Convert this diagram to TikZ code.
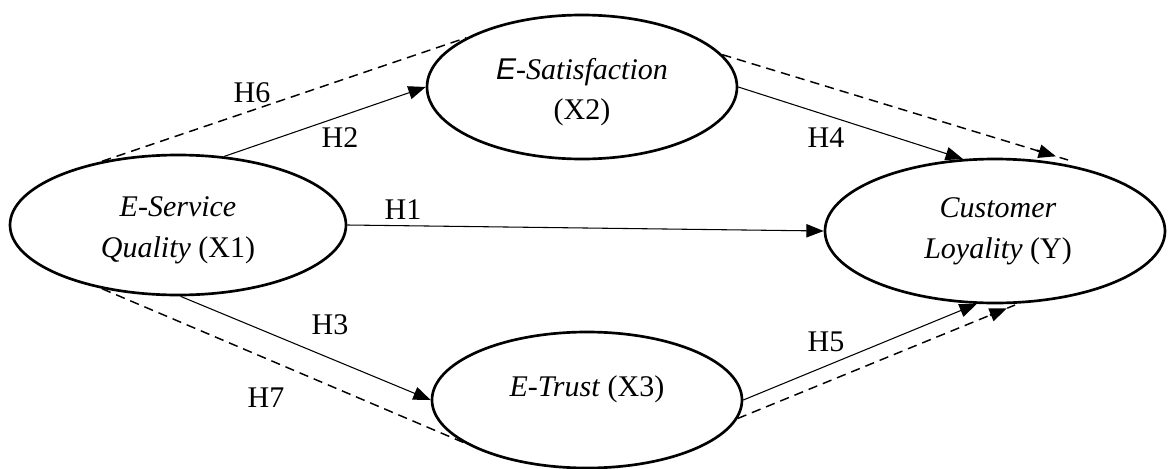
\documentclass[tikz,border=0pt]{standalone}
\usepackage{fontspec}
\setmainfont{Liberation Serif}
\newfontfamily\sansE{Liberation Sans}
\usetikzlibrary{arrows.meta,calc,shapes.geometric}
\begin{document}
\begin{tikzpicture}[x=0.75pt,y=-0.75pt,
  font=\fontsize{22.5}{30.5}\selectfont,
  latent/.style={draw, ellipse, line width=2pt, inner sep=0pt},
  txt/.style={align=center, inner sep=0pt},
  lab/.style={inner sep=0pt},
  arr/.style={line width=0.8pt, -{Triangle[length=13pt,width=10pt]}},
  dpath/.style={line width=1.1pt, dash pattern=on 7pt off 4.5pt},
  tipseg/.style={line width=1.6pt, -{Triangle[length=13pt,width=10pt]}}
]
\useasboundingbox (0,0) rectangle (1168,468);

% latent variables
\node[latent, minimum width=252pt, minimum height=105pt] (sq) at (178,225) {};
\node[latent, minimum width=232.5pt, minimum height=108pt] (sat) at (582,87) {};
\node[latent, minimum width=255pt, minimum height=108pt] (cl) at (995,231) {};
\node[latent, minimum width=232.5pt, minimum height=102pt] (tr) at (587,400) {};

\node[txt] (sqt) at (178,230) {\textit{E-Service}\\\textit{Quality} (X1)};
\node[txt] (satt) at (582,92) {\textit{{\sansE E}-Satisfaction}\\(X2)};
\node[txt] (clt) at (998,231) {\textit{Customer}\\\textit{Loyality} (Y)};
\node[txt] (trt) at (587,389) {\textit{E-Trust} (X3)};

% direct paths
\draw[arr] (sq.east) -- (cl.west);
\draw[arr] (sq.56) -- (sat.west);
\draw[arr] (sat.east) -- (cl.114.3);
\draw[arr] (sq.-88) -- (tr.west);
\draw[arr] (tr.east) -- (cl.-104.6);

% mediated (dashed) paths
\coordinate (h6end) at (1068,160);
\coordinate (h7end) at (1015,305);
\draw[dpath] (sq.140) -- (sat.157.3);
\draw[dpath] (sat.13) -- (h6end);
\draw[tipseg] ($(sat.13)!0.91!(h6end)$) -- ($(sat.13)!0.965!(h6end)$);
\draw[dpath] (sq.220) -- (tr.199.4);
\draw[dpath] (tr.-7.5) -- (h7end);
\draw[tipseg] ($(tr.-7.5)!0.91!(h7end)$) -- ($(tr.-7.5)!0.971!(h7end)$);

% labels
\node[lab] (l6) at (252,93) {H6};
\node[lab] (l2) at (340,138) {H2};
\node[lab] (l1) at (403,210) {H1};
\node[lab] (l4) at (826,138) {H4};
\node[lab] (l3) at (330,325) {H3};
\node[lab] (l7) at (266,398) {H7};
\node[lab] (l5) at (826,342) {H5};
\end{tikzpicture}
\end{document}
